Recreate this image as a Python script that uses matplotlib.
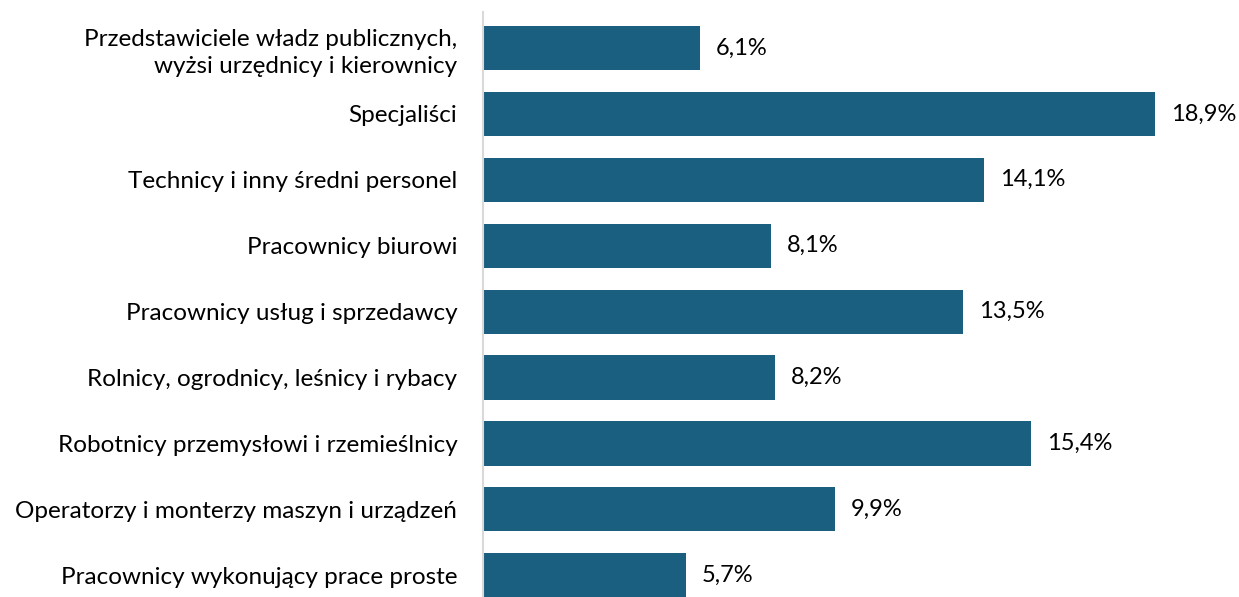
import matplotlib.pyplot as plt

categories = [
    "Przedstawiciele władz publicznych,\nwyżsi urzędnicy i kierownicy",
    "Specjaliści",
    "Technicy i inny średni personel",
    "Pracownicy biurowi",
    "Pracownicy usług i sprzedawcy",
    "Rolnicy, ogrodnicy, leśnicy i rybacy",
    "Robotnicy przemysłowi i rzemieślnicy",
    "Operatorzy i monterzy maszyn i urządzeń",
    "Pracownicy wykonujący prace proste",
]
values = [6.1, 18.9, 14.1, 8.1, 13.5, 8.2, 15.4, 9.9, 5.7]

plt.rcParams['font.family'] = ['Lato', 'DejaVu Sans']

fig = plt.figure(figsize=(12.39, 5.97), dpi=100)
ax = fig.add_axes([483/1239, 0.0, 1 - 483/1239, 1 - 12/597])

pos = list(range(len(values)))
ax.barh(pos, values, height=0.67, color="#1A5F80")
for p, v in zip(pos, values):
    ax.text(v + 0.45, p, f"{v:.1f}%".replace(".", ","), va="center", ha="left",
            fontsize=17, color="#000000")

ax.set_xlim(0, 21.26)
ax.set_ylim(8.33, -0.546)
ax.set_yticks(pos)
ax.set_yticklabels(categories, fontsize=17.5, color="#000000", linespacing=1.35)
ax.tick_params(axis="y", length=0, pad=18.5)
ax.set_xticks([])
for s in ["top", "right", "bottom"]:
    ax.spines[s].set_visible(False)
ax.spines["left"].set_color("#D9D9D9")
ax.spines["left"].set_linewidth(1.5)

fig.savefig("out.png", dpi=100)
